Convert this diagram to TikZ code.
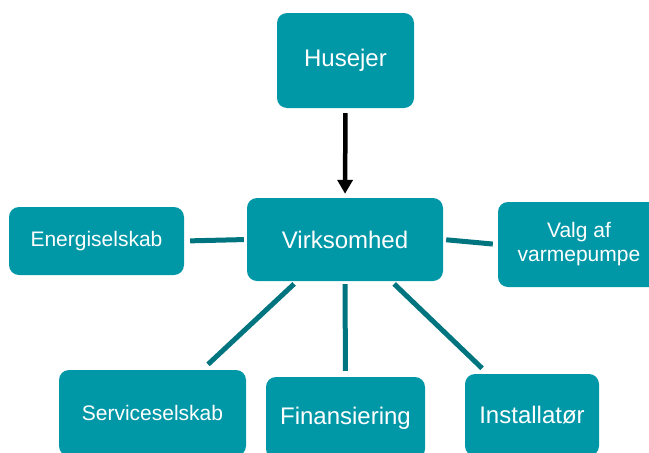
\documentclass[tikz,border=0pt]{standalone}
\usepackage{fontspec}
\setmainfont{Liberation Sans}
\usetikzlibrary{arrows.meta}
\definecolor{boxteal}{RGB}{0,151,167}
\definecolor{lineteal}{RGB}{0,117,128}
\begin{document}
\begin{tikzpicture}[x=1pt,y=-1pt,bx/.style={draw=none,fill=boxteal,rounded corners=10pt,text=white,align=center,inner sep=0pt},lb/.style={bx,font=\fontsize{24}{27}\selectfont},sb/.style={bx,font=\fontsize{21}{24}\selectfont},ln/.style={draw=lineteal,line width=5pt},ar/.style={draw=black,line width=4.5pt,-{Triangle[width=15pt,length=14pt]}}]
\clip (0,0) rectangle (649,453);
\node[lb,minimum width=137pt,minimum height=95pt] (hus) at (345.5,60.5) {Husejer};
\node[lb,minimum width=196pt,minimum height=83pt] (virk) at (345,239.5) {Virksomhed};
\node[sb,minimum width=175pt,minimum height=68pt] (energi) at (96.5,241) {Energiselskab};
\node[sb,minimum width=162pt,minimum height=85pt] (valg) at (579,244.5) {Valg af\\varmepumpe};
\node[sb,minimum width=187pt,minimum height=86pt] (service) at (152.5,413) {Serviceselskab};
\node[lb,minimum width=159pt,minimum height=82pt] (finans) at (345.5,418) {Finansiering};
\node[lb,minimum width=134pt,minimum height=82pt] (install) at (532,415) {Installatør};
\draw[ar,shorten <=5pt,shorten >=4pt] (hus.south) -- (virk.north);
\draw[ln,shorten <=6pt,shorten >=3pt] (energi.east) -- (virk.west);
\draw[ln,shorten <=3pt,shorten >=5pt] (virk.east) -- (valg.west);
\draw[ln,shorten <=4pt,shorten >=8pt] (virk.221.5) -- (service.41);
\draw[ln,shorten <=3pt,shorten >=6pt] (virk.south) -- (finans.north);
\draw[ln,shorten <=4pt,shorten >=8pt] (virk.-42) -- (install.137);
\end{tikzpicture}
\end{document}
